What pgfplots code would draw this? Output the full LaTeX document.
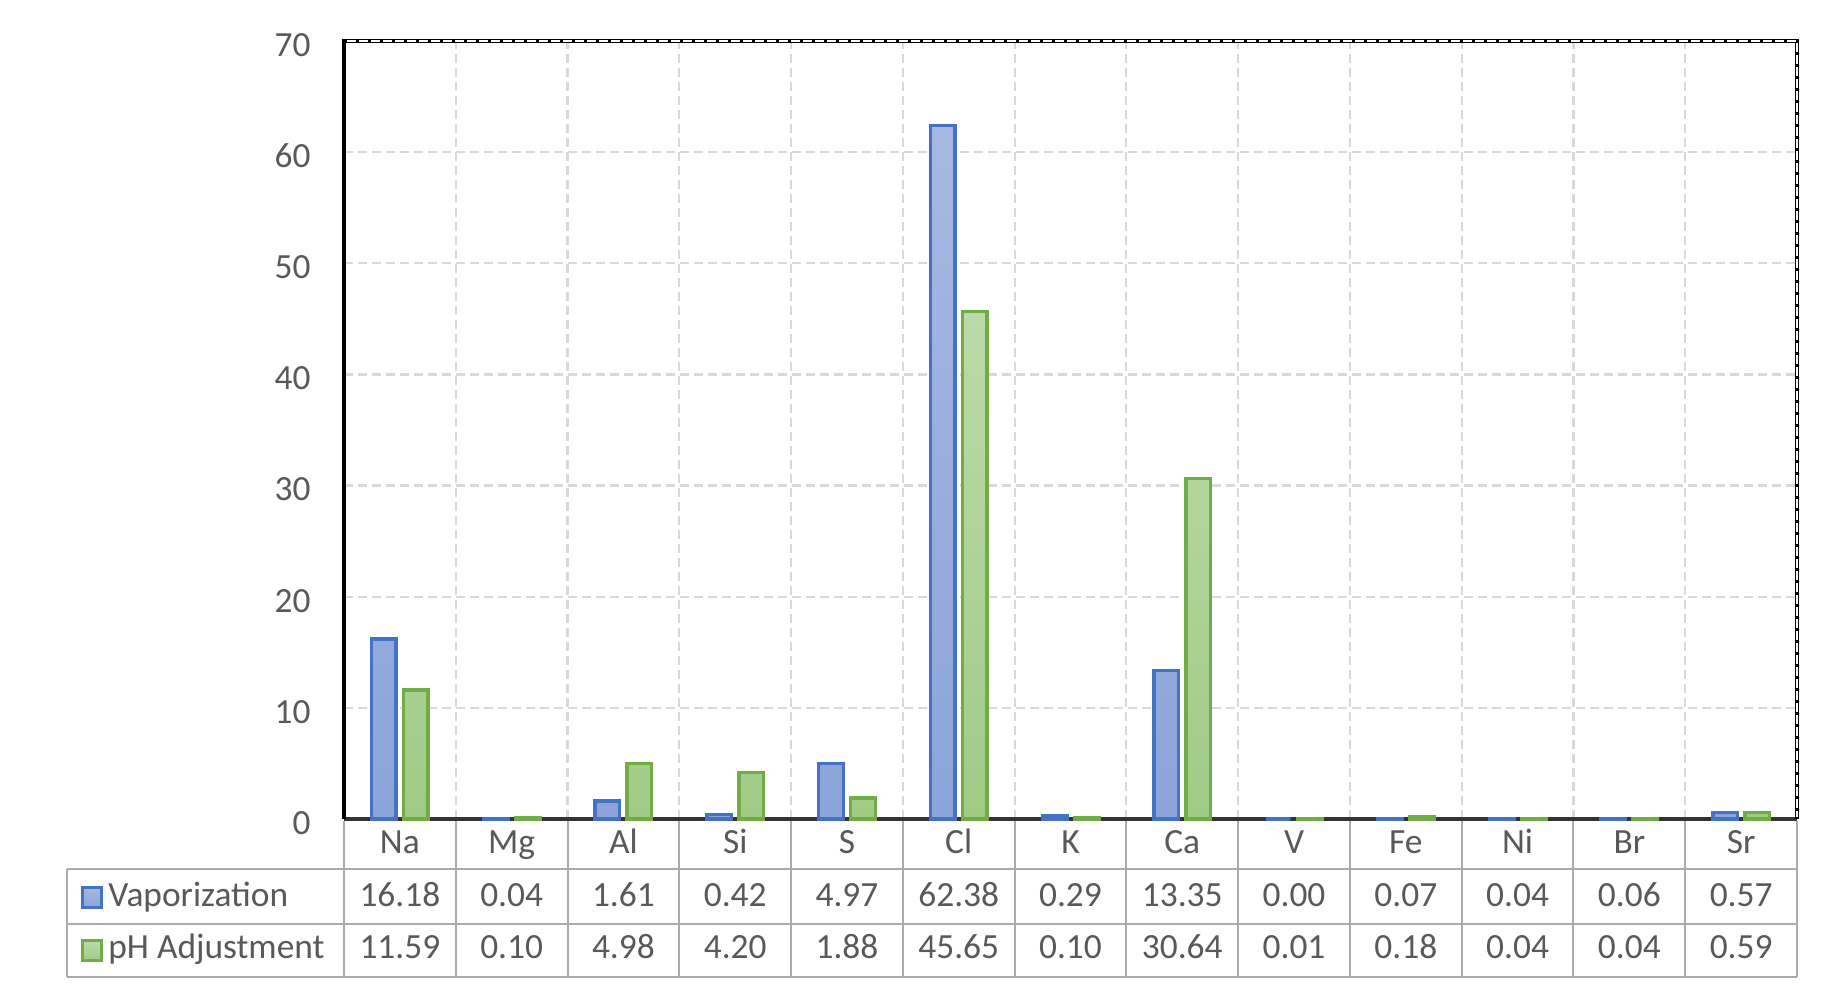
\documentclass[border=0pt]{standalone}
\usepackage{pgfplots}
\pgfplotsset{compat=1.18}
\usepackage{pgfplotstable}
\usepackage{fontspec}
\setmainfont{Carlito}
\definecolor{txt}{HTML}{595959}
\definecolor{vbd}{HTML}{4472C4}
\definecolor{gbd}{HTML}{70AD47}
\definecolor{vtop}{HTML}{A7B8E2}
\definecolor{vbot}{HTML}{8CA4DA}
\definecolor{gtop}{HTML}{BBDAA8}
\definecolor{gbot}{HTML}{A0CB86}
\definecolor{gridc}{HTML}{D9D9D9}
\definecolor{tbl}{HTML}{ABABAB}

\pgfplotstableread{
x vap ph
0 16.18 11.59
1 0.04 0.10
2 1.61 4.98
3 0.42 4.20
4 4.97 1.88
5 62.38 45.65
6 0.29 0.10
7 13.35 30.64
8 0.00 0.01
9 0.07 0.18
10 0.04 0.04
11 0.06 0.04
12 0.57 0.59
}\datatab

\newcommand{\lf}{\fontsize{17.7}{20}\selectfont}

\begin{document}
\begin{tikzpicture}[x=1pt,y=1pt]
\useasboundingbox (0,0) rectangle (921,499);
\begin{axis}[
  at={(172pt,89.5pt)}, anchor=south west,
  width=726.5pt, height=389pt, scale only axis,
  xmin=-0.5, xmax=12.5, ymin=0, ymax=70,
  ytick={0,10,...,70},
  xtick={0,...,12},
  xticklabels={Na,Mg,Al,Si,S,Cl,K,Ca,V,Fe,Ni,Br,Sr},
  minor xtick={-0.5,0.5,...,12.5},
  xminorgrids, ymajorgrids,
  major grid style={gridc, line width=1.1pt, dash pattern=on 4.5pt off 2.5pt},
  minor grid style={gridc, line width=1.1pt, dash pattern=on 4.5pt off 2.5pt},
  major tick length=0pt, minor tick length=0pt,
  axis x line*=bottom, axis y line*=left,
  x axis line style={black!80, line width=1.6pt, -},
  y axis line style={black, line width=2.2pt, -},
  tick label style={font=\lf, text=txt},
  yticklabel style={anchor=east, inner sep=0pt, xshift=-16.5pt, yshift=-2pt},
  xticklabel style={anchor=base, inner sep=0pt, yshift=-17pt},
  /pgf/number format/assume math mode=true,
  /pgf/number format/fixed,
  clip=false,
]
\addplot[ybar, bar width=12.3pt, bar shift=-8pt, draw=vbd, line width=1.7pt,
  top color=vtop, bottom color=vbot] table[x=x, y=vap] {\datatab};
\addplot[ybar, bar width=12.3pt, bar shift=8pt, draw=gbd, line width=1.7pt,
  top color=gtop, bottom color=gbot] table[x=x, y=ph] {\datatab};
\end{axis}
% axis frame top/right
\draw[black, line width=2.4pt] (171,478.5) -- (898.5,478.5) -- (898.5,89.5);
\draw[white, line width=0.9pt, dash pattern=on 4.5pt off 1.5pt] (173.5,478.5) -- (898.5,478.5) -- (898.5,90.5);
% table grid
\begin{scope}[tbl, line width=1pt]
\foreach \k in {0,...,13} {
  \draw (172+\k*55.8846,88.7) -- (172+\k*55.8846,10.5);
}
\draw (33.5,64.5) -- (898.5,64.5);
\draw (33.5,37) -- (898.5,37);
\draw (33.5,10.5) -- (898.5,10.5);
\draw (33.5,64.5) -- (33.5,10.5);
\end{scope}
% legend keys
\draw[vbd, line width=1.5pt, top color=vtop, bottom color=vbot] (41.2,45.2) rectangle (50.8,55.2);
\draw[gbd, line width=1.5pt, top color=gtop, bottom color=gbot] (41.2,18.6) rectangle (50.8,28.6);
\node[anchor=base west, inner sep=0pt, font=\lf, text=txt] at (54,46) {Vaporization};
\node[anchor=base west, inner sep=0pt, font=\lf, text=txt] at (54,20) {pH Adjustment};
% table values
\foreach \v [count=\i from 0] in {16.18,0.04,1.61,0.42,4.97,62.38,0.29,13.35,0.00,0.07,0.04,0.06,0.57} {
  \node[anchor=base, inner sep=0pt, font=\lf, text=txt] at (172+\i*55.8846+27.9423,46) {\v};
}
\foreach \v [count=\i from 0] in {11.59,0.10,4.98,4.20,1.88,45.65,0.10,30.64,0.01,0.18,0.04,0.04,0.59} {
  \node[anchor=base, inner sep=0pt, font=\lf, text=txt] at (172+\i*55.8846+27.9423,20) {\v};
}
\end{tikzpicture}
\end{document}
